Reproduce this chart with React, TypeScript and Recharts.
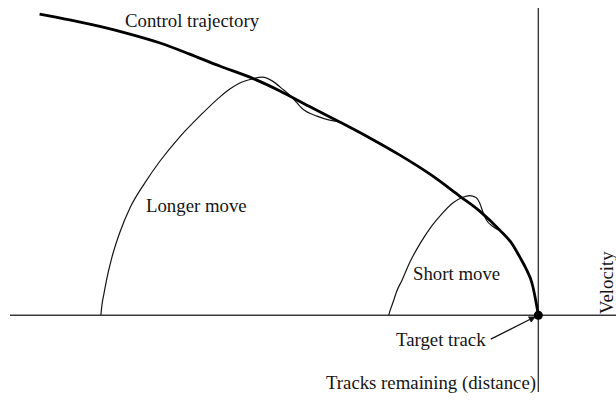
import { ComposedChart, Line, XAxis, YAxis, ReferenceLine, ReferenceDot } from 'recharts'

// Tracks remaining (distance) against velocity, both in arbitrary units.
const trajectoryDistance = [94.4, 88.7, 83.0, 77.3, 71.6, 66.0, 60.3, 54.6, 48.9, 43.3, 37.6, 31.9, 26.2, 20.5, 14.9, 11.1, 7.3, 4.8, 3.5, 2.2, 1.2, 0.5, 0]
const trajectoryVelocity = [98.0, 96.1, 94.0, 91.5, 88.6, 85.0, 81.1, 77.5, 73.0, 67.9, 62.9, 57.7, 52.1, 45.9, 38.8, 33.9, 27.7, 22.8, 18.9, 14.7, 10.4, 4.9, 0]

const longDistance = [82.8, 82.6, 82.2, 81.7, 80.7, 79.2, 77.3, 74.5, 71.6, 67.9, 64.1, 60.3, 58.4, 56.5, 54.2, 52.2, 50.3, 48.4, 46.5, 44.6, 41.9, 39.5, 37.6]
const longVelocity = [0, 3.3, 7.2, 11.7, 18.9, 27.0, 34.9, 43.0, 50.2, 58.0, 64.8, 71.0, 73.6, 75.6, 76.9, 77.5, 76.2, 73.6, 70.7, 67.1, 64.8, 63.5, 62.9]

const shortDistance = [28.3, 28.1, 27.5, 26.8, 25.8, 24.3, 22.1, 20.2, 18.3, 16.2, 14.3, 13.0, 11.8, 11.1, 10.5, 9.8, 8.6, 7.3]
const shortVelocity = [0, 1.3, 4.2, 7.8, 11.4, 17.3, 24.1, 29.0, 32.9, 36.5, 38.4, 38.9, 38.3, 36.5, 33.6, 30.9, 28.9, 27.5]

const toPoints = (d: number[], v: number[]) => d.map((x, i) => ({ d: x, v: v[i] }))

const trajectory = toPoints(trajectoryDistance, trajectoryVelocity)
const longerMove = toPoints(longDistance, longVelocity)
const shortMove = toPoints(shortDistance, shortVelocity)

const INK = '#151515'
const FONT = '"Liberation Serif", "DejaVu Serif", serif'

const textStyle = { fontFamily: FONT, fontSize: 18.8, fill: INK }

export default function App() {
  return (
    <div style={{ position: 'absolute', left: 0, top: 0, background: '#fff' }}>
      <ComposedChart width={616} height={400} margin={{ top: 8, right: 0, bottom: 8, left: 10 }}>
        <defs>
          <marker id="arrowHead" viewBox="0 0 10 10" refX="9" refY="5" markerWidth="9" markerHeight="7" orient="auto" markerUnits="userSpaceOnUse">
            <path d="M0,0 L10,5 L0,10 z" fill={INK} />
          </marker>
        </defs>
        <XAxis type="number" dataKey="d" domain={[-14.7, 100]} reversed hide allowDataOverflow />
        <YAxis type="number" dataKey="v" domain={[-25, 100]} hide allowDataOverflow />

        <ReferenceLine y={0} stroke="#3a3a3a" strokeWidth={1.4} />
        <ReferenceLine x={0} stroke="#3a3a3a" strokeWidth={1.4} />

        <Line data={longerMove} dataKey="v" type="monotone" stroke={INK} strokeWidth={1.2} dot={false} isAnimationActive={false} />
        <Line data={shortMove} dataKey="v" type="monotone" stroke={INK} strokeWidth={1.2} dot={false} isAnimationActive={false} />
        <Line data={trajectory} dataKey="v" type="monotone" stroke="#000" strokeWidth={2.8} dot={false} isAnimationActive={false} />

        <ReferenceDot x={0} y={0} r={4.5} fill="#000" stroke="none" />
        <ReferenceLine
          segment={[{ x: 9.0, y: -7.8 }, { x: 0.6, y: -0.5 }]}
          stroke={INK}
          strokeWidth={1.3}
          markerEnd="url(#arrowHead)"
        />

        <text x={125} y={27} style={textStyle}>Control trajectory</text>
        <text x={146} y={212} style={textStyle}>Longer move</text>
        <text x={413} y={280} style={textStyle}>Short move</text>
        <text x={396} y={346} style={textStyle}>Target track</text>
        <text x={536} y={389} textAnchor="end" style={textStyle}>Tracks remaining (distance)</text>
        <text x={613} y={314} transform="rotate(-90 613 314)" style={textStyle}>Velocity</text>
      </ComposedChart>
    </div>
  )
}
